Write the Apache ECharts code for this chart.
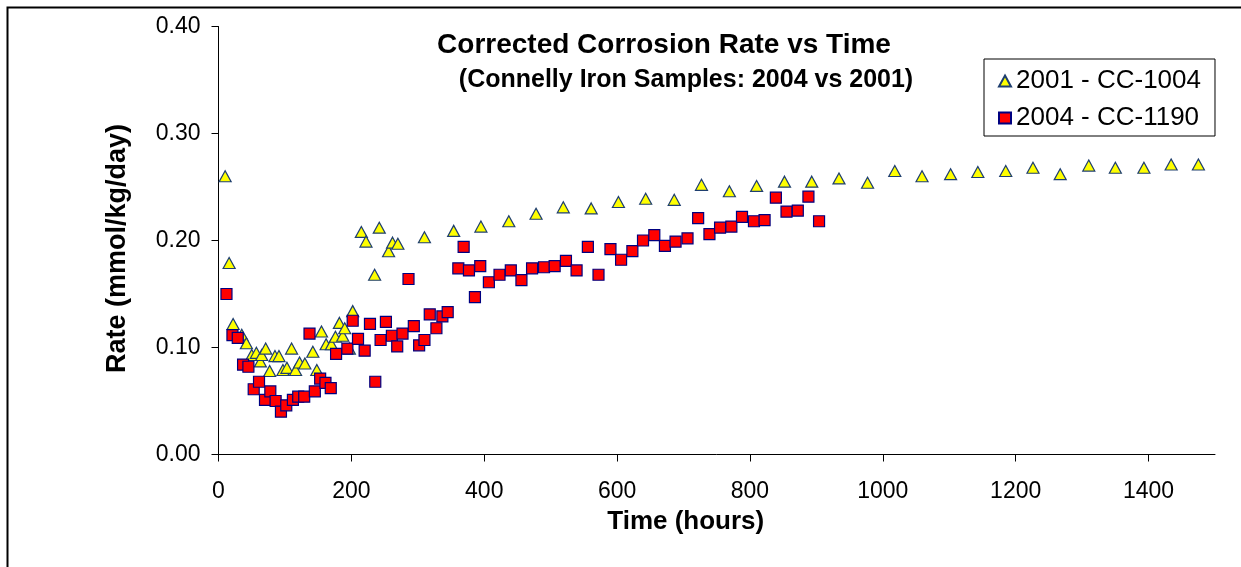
<!DOCTYPE html>
<html>
<head>
<meta charset="utf-8">
<script src="https://cdn.jsdelivr.net/npm/echarts@6/dist/echarts.min.js"></script>
<style>
html,body{margin:0;padding:0;background:#fff;}
#chart{width:1241px;height:567px;}
</style>
</head>
<body>
<div id="chart"></div>
<script>
// ---- data ----
const titleText = "Corrected Corrosion Rate vs Time";
const subtitleText = "(Connelly Iron Samples: 2004 vs 2001)";
const xAxisTitle = "Time (hours)";
const yAxisTitle = "Rate (mmol/kg/day)";
const seriesNames = ["2001 - CC-1004", "2004 - CC-1190"];
const xTicks = [0, 200, 400, 600, 800, 1000, 1200, 1400];
const yTicks = [0, 0.1, 0.2, 0.3, 0.4];

const hours2001 = [10,16,22,35,42,50,57,63,65,71,77,85,91,97,103,110,116,122,130,142,148,155,162,170,176,182,187,190,197,202,215,222,235,242,256,262,270,310,354,395,437,478,519,561,602,643,686,727,769,810,852,893,934,977,1018,1059,1102,1143,1185,1226,1267,1310,1350,1393,1434,1475];
const rate2001 = [0.260,0.179,0.122,0.112,0.104,0.093,0.095,0.087,0.093,0.099,0.078,0.092,0.092,0.079,0.081,0.099,0.079,0.086,0.085,0.096,0.079,0.115,0.103,0.103,0.110,0.123,0.111,0.118,0.099,0.134,0.208,0.199,0.168,0.212,0.190,0.198,0.197,0.203,0.209,0.213,0.218,0.225,0.231,0.230,0.236,0.239,0.238,0.252,0.246,0.251,0.255,0.255,0.258,0.254,0.265,0.260,0.262,0.264,0.265,0.268,0.262,0.270,0.268,0.268,0.271,0.271];

const hours2004 = [12,21,29,37,45,53,61,70,78,86,94,102,112,120,129,137,145,153,161,169,177,194,202,210,220,228,236,244,252,261,269,277,286,294,302,310,318,328,337,345,361,369,377,386,394,407,423,440,456,472,490,506,523,539,556,572,590,606,623,639,656,672,688,706,722,739,755,772,788,806,822,839,855,872,888,904];
const rate2004 = [0.150,0.1115,0.109,0.084,0.082,0.061,0.068,0.051,0.059,0.050,0.040,0.046,0.051,0.054,0.054,0.113,0.059,0.071,0.067,0.062,0.094,0.099,0.125,0.108,0.097,0.122,0.068,0.107,0.124,0.111,0.101,0.113,0.164,0.120,0.102,0.107,0.131,0.118,0.129,0.133,0.174,0.194,0.172,0.147,0.176,0.161,0.168,0.172,0.163,0.174,0.175,0.176,0.181,0.172,0.194,0.168,0.192,0.182,0.190,0.200,0.205,0.195,0.199,0.202,0.221,0.206,0.212,0.213,0.222,0.218,0.219,0.240,0.227,0.228,0.241,0.218];

// ---- chart ----
const FONT = "Arial, 'Liberation Sans', sans-serif";
const pairs = (xs, ys) => xs.map((x, i) => [x, ys[i]]);
const chart = echarts.init(document.getElementById('chart'), null, {renderer: 'canvas'});

const axisLineStyle = {color: '#000', width: 1};

chart.setOption({
  animation: false,
  backgroundColor: '#fff',
  grid: {left: 218.5, right: 26, top: 26.5, bottom: 112.5, containLabel: false},
  xAxis: {
    type: 'value', min: 0, max: 1500, interval: 200,
    splitLine: {show: false},
    axisLine: {show: true, onZero: false, lineStyle: axisLineStyle},
    axisTick: {show: true, inside: false, length: 7, lineStyle: axisLineStyle, customValues: xTicks},
    axisLabel: {show: true, margin: 26, fontSize: 23, color: '#000', fontFamily: FONT,
      customValues: xTicks, formatter: v => String(v)},
    name: xAxisTitle, nameLocation: 'middle', nameGap: 48,
    nameTextStyle: {fontSize: 26, fontWeight: 'bold', color: '#000', fontFamily: FONT, padding: [0, 62, 0, 0]}
  },
  yAxis: {
    type: 'value', min: 0, max: 0.4, interval: 0.1,
    splitLine: {show: false},
    axisLine: {show: true, onZero: false, lineStyle: axisLineStyle},
    axisTick: {show: true, inside: false, length: 7, lineStyle: axisLineStyle, customValues: yTicks},
    axisLabel: {show: true, margin: 18, fontSize: 23, color: '#000', fontFamily: FONT,
      customValues: yTicks, formatter: v => v.toFixed(2)},
    name: yAxisTitle, nameLocation: 'middle', nameGap: 87, nameRotate: 90,
    nameTextStyle: {fontSize: 27, fontWeight: 'bold', color: '#000', fontFamily: FONT, padding: [0, 16, 0, 0]}
  },
  legend: {
    orient: 'vertical', left: 984, top: 59,
    padding: [8, 14, 4, 14],
    itemGap: 9, itemWidth: 12, itemHeight: 11,
    borderColor: '#000', borderWidth: 1, backgroundColor: '#fff',
    textStyle: {fontSize: 26, color: '#000', fontFamily: FONT, lineHeight: 28},
    data: seriesNames
  },
  graphic: [
    {type: 'rect', left: 5, top: 5, z: -10, silent: true,
     shape: {x: 0, y: 0, width: 1300, height: 620},
     style: {fill: 'none', stroke: '#000', lineWidth: 2}},
    {type: 'text', x: 664, y: 45, z: 10,
     style: {text: titleText, font: "bold 28px " + FONT, fill: '#000', textAlign: 'center', textVerticalAlign: 'middle'}},
    {type: 'text', x: 686, y: 80, z: 10,
     style: {text: subtitleText, font: "bold 25px " + FONT, fill: '#000', textAlign: 'center', textVerticalAlign: 'middle'}}
  ],
  series: [
    {
      name: seriesNames[0], type: 'scatter',
      symbol: 'triangle', symbolSize: [12, 11],
      itemStyle: {color: '#FFFF00', borderColor: '#1F3F6F', borderWidth: 1.2, opacity: 1},
      data: pairs(hours2001, rate2001), z: 2
    },
    {
      name: seriesNames[1], type: 'scatter',
      symbol: 'rect', symbolSize: 11,
      itemStyle: {color: '#FF0000', borderColor: '#000080', borderWidth: 1.2, opacity: 1},
      data: pairs(hours2004, rate2004), z: 3
    }
  ]
});
</script>
</body>
</html>
